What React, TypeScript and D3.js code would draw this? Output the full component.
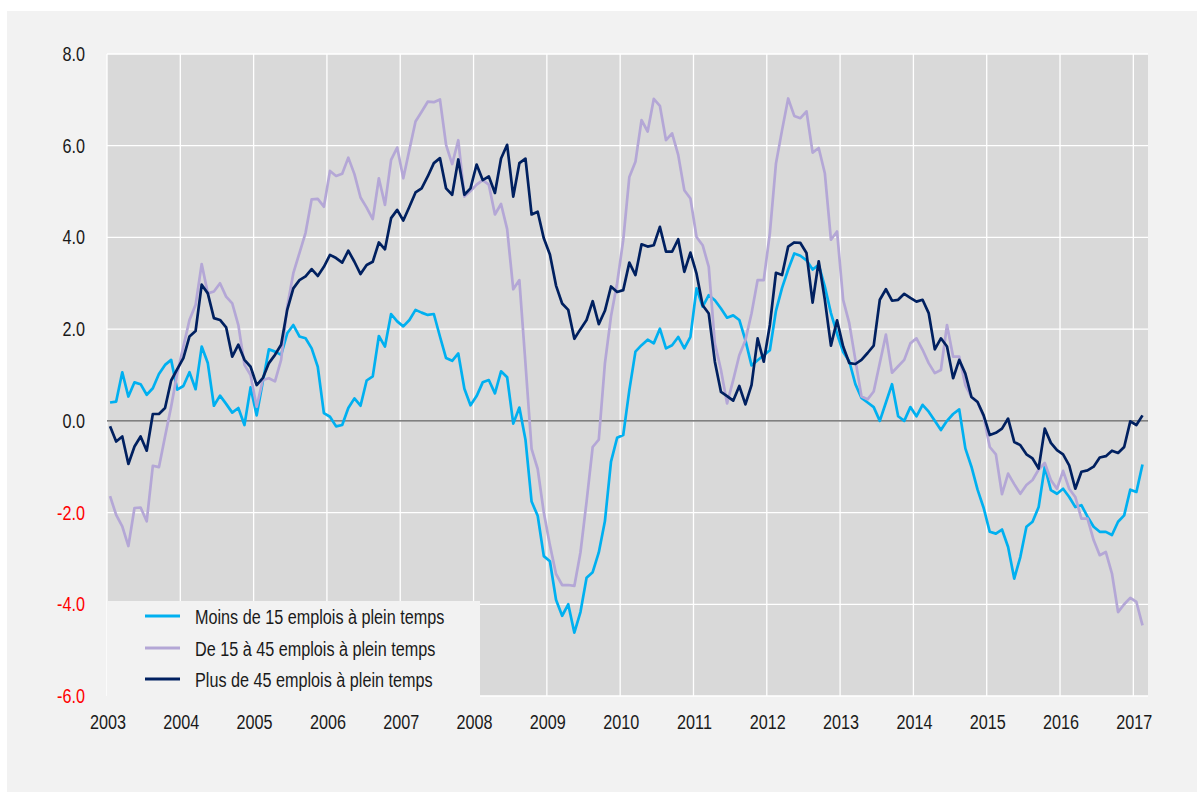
import React from "react";
import * as d3 from "d3";

// Monthly series, Jan 2003 – Feb 2017
const moins15: number[] = [
  0.40, 0.42, 1.06, 0.53, 0.84, 0.80, 0.57, 0.71, 1.02, 1.22, 1.33, 0.68, 0.76, 1.06, 0.69, 1.62, 1.26, 0.33, 0.55, 0.37, 0.18, 0.28, -0.09, 0.73, 0.12, 0.85, 1.56, 1.51, 1.44,
  1.91, 2.09, 1.84, 1.80, 1.58, 1.18, 0.17, 0.09, -0.12, -0.09, 0.28, 0.49, 0.33, 0.88, 0.97, 1.85, 1.62, 2.33, 2.17, 2.06, 2.20, 2.42, 2.36, 2.31, 2.33, 1.84, 1.37, 1.31,
  1.47, 0.70, 0.34, 0.54, 0.84, 0.89, 0.60, 1.08, 0.95, -0.06, 0.29, -0.41, -1.76, -2.07, -2.95, -3.06, -3.90, -4.25, -4.00, -4.62, -4.17, -3.42, -3.30, -2.87, -2.19, -0.89, -0.37,
  -0.31, 0.67, 1.51, 1.65, 1.77, 1.69, 2.01, 1.58, 1.65, 1.83, 1.58, 1.83, 2.89, 2.49, 2.74, 2.63, 2.45, 2.25, 2.30, 2.20, 1.76, 1.21, 1.32, 1.43, 1.54, 2.40, 2.90, 3.30,
  3.65, 3.60, 3.50, 3.30, 3.40, 2.93, 2.35, 1.90, 1.50, 1.30, 0.80, 0.50, 0.40, 0.30, 0.00, 0.40, 0.80, 0.10, 0.00, 0.30, 0.10, 0.35, 0.20, 0.00, -0.20, 0.00, 0.15, 0.25,
  -0.60, -1.00, -1.50, -1.90, -2.42, -2.46, -2.37, -2.75, -3.44, -2.97, -2.31, -2.20, -1.88, -1.00, -1.51, -1.59, -1.48, -1.66, -1.88, -1.84, -2.09, -2.31, -2.42, -2.42, -2.49, -2.20, -2.06, -1.50, -1.55, -0.95,
];

const de15a45: number[] = [
  -1.64, -2.05, -2.30, -2.73, -1.90, -1.89, -2.19, -0.98, -1.01, -0.34, 0.31, 1.04, 1.62, 2.20, 2.53, 3.42, 2.78, 2.82, 3.00, 2.71, 2.56, 2.09, 1.22, 1.00, 0.31, 0.89, 0.93, 0.86, 1.33,
  2.49, 3.22, 3.66, 4.10, 4.83, 4.84, 4.67, 5.45, 5.34, 5.39, 5.74, 5.38, 4.87, 4.65, 4.40, 5.29, 4.71, 5.69, 5.96, 5.29, 5.91, 6.53, 6.74, 6.96, 6.95, 7.01, 6.02, 5.60,
  6.12, 4.89, 5.01, 5.15, 5.25, 5.15, 4.50, 4.73, 4.18, 2.87, 3.07, 1.25, -0.61, -1.05, -2.00, -2.71, -3.34, -3.58, -3.58, -3.60, -2.87, -1.76, -0.57, -0.41, 1.25, 2.28, 3.00,
  3.94, 5.32, 5.65, 6.56, 6.31, 7.02, 6.87, 6.12, 6.27, 5.80, 5.03, 4.85, 4.01, 3.83, 3.36, 1.69, 1.11, 0.38, 0.89, 1.43, 1.76, 2.34, 3.07, 3.07, 4.09, 5.61, 6.34, 7.03,
  6.65, 6.60, 6.75, 5.85, 5.95, 5.40,
  3.95, 4.13, 2.64, 2.13, 1.33, 0.53, 0.47, 0.64, 1.26, 1.88, 1.05, 1.19, 1.33, 1.69, 1.80, 1.55, 1.26, 1.04, 1.11, 2.09, 1.40, 1.40,
  0.78, 0.52, 0.41, 0.09, -0.57, -0.73, -1.60, -1.15, -1.38, -1.59, -1.40, -1.29, -1.06, -0.92, -1.29, -1.48, -1.09, -1.48, -1.66, -2.13, -2.13, -2.60, -2.93, -2.86, -3.33, -4.17, -4.00, -3.86, -3.95, -4.46,
];

const plus45: number[] = [
  -0.12, -0.45, -0.34, -0.94, -0.56, -0.34, -0.65, 0.15, 0.15, 0.28, 0.88, 1.13, 1.37,
  1.84, 1.96, 2.97, 2.78, 2.24, 2.20, 2.04, 1.40, 1.66, 1.33, 1.18, 0.78, 0.93, 1.26, 1.44, 1.66,
  2.42, 2.89, 3.07, 3.15, 3.31, 3.16, 3.36, 3.62, 3.55, 3.45, 3.71, 3.47, 3.20, 3.40, 3.47, 3.89, 3.74, 4.42, 4.60, 4.37, 4.67, 4.98, 5.07, 5.33, 5.62, 5.73, 5.07, 4.93,
  5.70, 4.93, 5.07, 5.59, 5.25, 5.33, 4.97, 5.72, 6.02, 4.89, 5.62, 5.72, 4.50, 4.56, 3.98, 3.63, 2.95, 2.56, 2.42, 1.79, 2.00, 2.20, 2.61, 2.11, 2.40, 2.93, 2.81,
  2.85, 3.45, 3.18, 3.85, 3.80, 3.83, 4.23, 3.69, 3.69, 3.96, 3.25, 3.67, 3.21, 2.52, 2.34, 1.29, 0.63, 0.54, 0.44, 0.76, 0.36, 0.78, 1.80, 1.29, 2.09, 3.23, 3.18, 3.80,
  3.89, 3.88, 3.66, 2.58, 3.48, 2.64, 1.64, 2.19, 1.62, 1.26, 1.24, 1.33, 1.48, 1.64, 2.64, 2.87, 2.62, 2.64, 2.77, 2.68, 2.60, 2.64, 2.35, 1.56, 1.80, 1.62, 0.93, 1.33,
  1.03, 0.52, 0.41, 0.12, -0.31, -0.26, -0.17, 0.05, -0.46, -0.53, -0.73, -0.82, -1.04, -0.17, -0.48, -0.64, -0.73, -0.97, -1.48, -1.11, -1.08, -1.00, -0.80, -0.77, -0.65, -0.70, -0.57, -0.01, -0.09, 0.12,
];

const startYear = 2003;
const yearTicks: number[] = d3.range(2003, 2018);
const yTicks: number[] = [-6, -4, -2, 0, 2, 4, 6, 8];

const seriesNames = [
  "Moins de 15 emplois à plein temps",
  "De 15 à 45 emplois à plein temps",
  "Plus de 45 emplois à plein temps",
];
const seriesColors = ["#00b0f0", "#b4a7d6", "#002060"];
const seriesData = [moins15, de15a45, plus45];

const FONT = "'Liberation Sans', Arial, sans-serif";
const NARROW = 0.81;

export default function App() {
  const W = 1203;
  const H = 792;
  const left = 107, right = 1148, top = 54, bottom = 696;

  const x = d3.scaleLinear().domain([2003, 2017.2]).range([left, right]);
  const y = d3.scaleLinear().domain([-6, 8]).range([bottom, top]);

  const line = d3
    .line<number>()
    .x((_, i) => x(startYear + (i + 0.5) / 12))
    .y((d) => y(d));

  const legendX = 107, legendY = 601, legendW = 373, legendH = 96;
  const legendRows = [616, 648, 679];

  return (
    <svg
      width={W}
      height={H}
      style={{ position: "fixed", left: 0, top: 0, display: "block" }}
      fontFamily={FONT}
    >
      <rect x={0} y={0} width={W} height={H} fill="#ffffff" />
      <rect x={7} y={11} width={1190} height={781} fill="#f2f2f2" />
      <rect x={left} y={top} width={right - left} height={bottom - top} fill="#d9d9d9" />

      {yearTicks.map((t) => (
        <line key={"vx" + t} x1={x(t)} x2={x(t)} y1={top} y2={bottom} stroke="#ffffff" strokeWidth={1.3} />
      ))}
      {yTicks.map((t) => (
        <line key={"hy" + t} x1={left} x2={right} y1={y(t)} y2={y(t)} stroke="#ffffff" strokeWidth={1.3} />
      ))}
      <line x1={left} x2={right} y1={y(0)} y2={y(0)} stroke="#595959" strokeWidth={1.4} />

      {seriesData.map((s, k) => (
        <path
          key={"s" + k}
          d={line(s) || ""}
          fill="none"
          stroke={seriesColors[k]}
          strokeWidth={2.7}
          strokeLinejoin="round"
        />
      ))}

      {yTicks.map((t) => (
        <text
          key={"yl" + t}
          transform={`translate(85,${y(t) + 7}) scale(${NARROW},1)`}
          textAnchor="end"
          fontSize={20}
          fill={t < 0 ? "#ff0000" : "#1a1a1a"}
        >
          {t.toFixed(1)}
        </text>
      ))}
      {yearTicks.map((t) => (
        <text
          key={"xl" + t}
          transform={`translate(${x(t) + 1},729) scale(${NARROW},1)`}
          textAnchor="middle"
          fontSize={20}
          fill="#1a1a1a"
        >
          {t}
        </text>
      ))}

      <rect x={legendX} y={legendY} width={legendW} height={legendH} fill="#f2f2f2" />
      {seriesNames.map((n, k) => (
        <g key={"lg" + k}>
          <line x1={145} x2={180} y1={legendRows[k]} y2={legendRows[k]} stroke={seriesColors[k]} strokeWidth={3} />
          <text
            transform={`translate(195,${legendRows[k] + 8}) scale(${NARROW},1)`}
            fontSize={20}
            fill="#1a1a1a"
          >
            {n}
          </text>
        </g>
      ))}
    </svg>
  );
}
